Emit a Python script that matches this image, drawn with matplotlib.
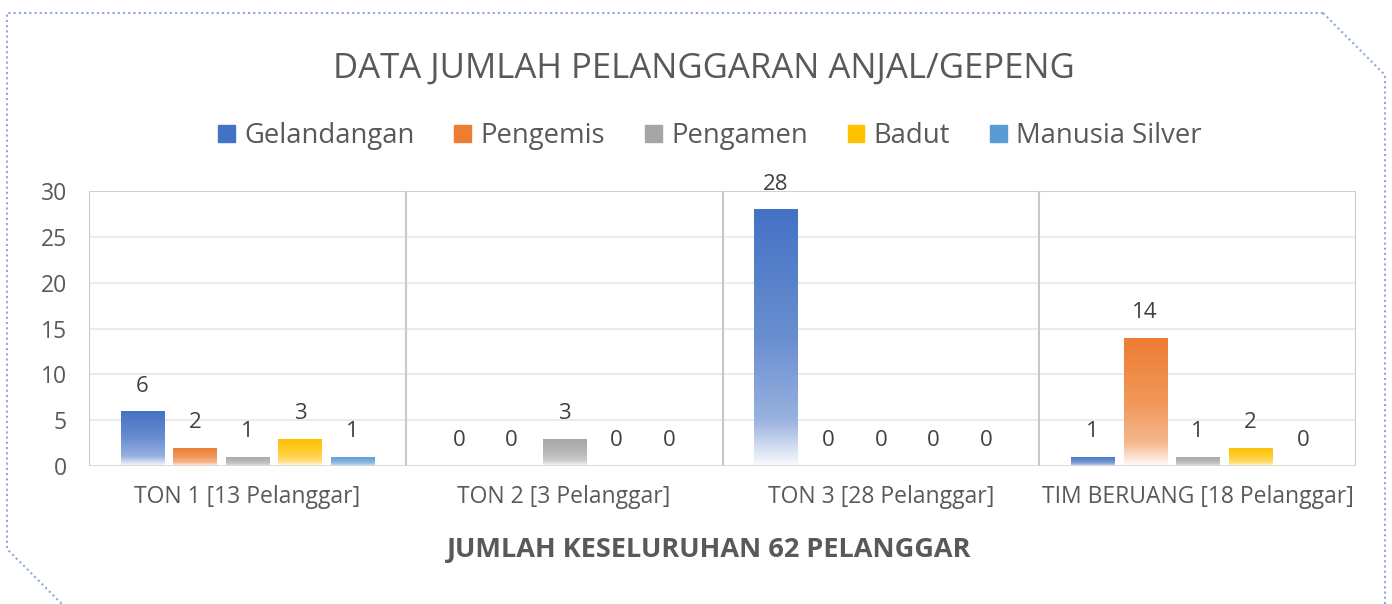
import numpy as np
import matplotlib
matplotlib.use("Agg")
import matplotlib.pyplot as plt
from matplotlib.patches import Rectangle
from matplotlib.lines import Line2D

plt.rcParams['font.family'] = ['Open Sans', 'DejaVu Sans']

# data
kategori = ["TON 1 [13 Pelanggar]", "TON 2 [3 Pelanggar]",
            "TON 3 [28 Pelanggar]", "TIM BERUANG [18 Pelanggar]"]
seri = ["Gelandangan", "Pengemis", "Pengamen", "Badut", "Manusia Silver"]
gelandangan = [6, 0, 28, 1]
pengemis = [2, 0, 0, 14]
pengamen = [1, 3, 0, 1]
badut = [3, 0, 0, 2]
manusia_silver = [1, 0, 0, 0]
nilai = [gelandangan, pengemis, pengamen, badut, manusia_silver]
warna = ["#4472C4", "#ED7D31", "#A5A5A5", "#FFC000", "#5B9BD5"]
yticks = [0, 5, 10, 15, 20, 25, 30]

W, H = 1392, 604
fig = plt.figure(figsize=(W/100, H/100), dpi=100)
ax = fig.add_axes([89/W, (H-466)/H, (1356-89)/W, (466-191)/H])

teks = "#595959"
lebar = 0.136
jarak = 0.166


def gradien(c):
    # warna penuh di atas, memudar ke putih di bawah
    rgb = np.array(matplotlib.colors.to_rgb(c))
    t = np.linspace(0, 1, 200)
    mix = np.interp(t, [0, 0.18, 0.5, 1], [0.03, 0.55, 0.8, 1.0])
    img = np.ones((200, 1, 3))
    for i in range(3):
        img[:, 0, i] = 1 - mix*(1 - rgb[i])
    return img


for s, (vals, c) in enumerate(zip(nilai, warna)):
    for k, v in enumerate(vals):
        x = k + (s-2)*jarak
        if v > 0:
            p = ax.bar(x, v, width=lebar, color="none", zorder=2)[0]
            im = ax.imshow(gradien(c), extent=[x-lebar/2, x+lebar/2, 0, v],
                           origin="lower", aspect="auto", zorder=2)
            im.set_clip_path(p)
        ax.annotate(str(v), (x, v), xytext=(0, 18), textcoords="offset points",
                    ha="center", va="center", fontsize=16, color="#404040")

ax.set_xlim(-0.5, len(kategori)-0.5)
ax.set_ylim(0, 30)
ax.set_yticks(yticks)
ax.set_xticks(range(len(kategori)))
ax.set_xticklabels(kategori)
ax.tick_params(length=0, labelsize=16.5, colors=teks)
ax.tick_params(axis="y", pad=16)
ax.tick_params(axis="x", pad=14)
for y in yticks[1:-1]:
    ax.axhline(y, color="#E8E8E8", lw=1.2, zorder=0)
ax.axhline(30, color="#D0D0D0", lw=1.5, zorder=0)
for x in np.arange(-0.5, len(kategori), 1):
    ax.axvline(x, color="#C8C8C8", lw=1.5, zorder=0)
for sp in ax.spines.values():
    sp.set_visible(False)
ax.axhline(0, color="#D0D0D0", lw=1.8, zorder=3)

ax.set_xlabel("JUMLAH KESELURUHAN 62 PELANGGAR", fontsize=19.5, fontweight="bold",
              color=teks, labelpad=20)
ax.xaxis.label.set_x((709.5-89)/(1356-89))

fig.text(704/W, 1-69/H, "DATA JUMLAH PELANGGARAN ANJAL/GEPENG", ha="center",
         va="center", fontsize=25, color=teks)

handles = [Rectangle((0, 0), 1, 1, color=c) for c in warna]
fig.legend(handles, seri, loc="center", bbox_to_anchor=(710/W, 1-136/H), ncol=5,
           frameon=False, fontsize=19.8, labelcolor=teks, handlelength=0.6,
           handleheight=0.6, handletextpad=0.35, columnspacing=1.45)

# bingkai titik-titik
bx = [1323, 7, 7, 62]
by = [13, 13, 549, 604]
fig.add_artist(Line2D([v/W for v in bx], [1-v/H for v in by], transform=fig.transFigure,
                      color="#8EA9DB", lw=1.5, linestyle=(0, (1, 1.5))))
fig.add_artist(Line2D([1323/W, 1385/W, 1385/W], [1-13/H, 1-75/H, 0],
                      transform=fig.transFigure, color="#8EA9DB", lw=1.5,
                      linestyle=(0, (1, 1.5))))

fig.savefig("out.png", dpi=100)
